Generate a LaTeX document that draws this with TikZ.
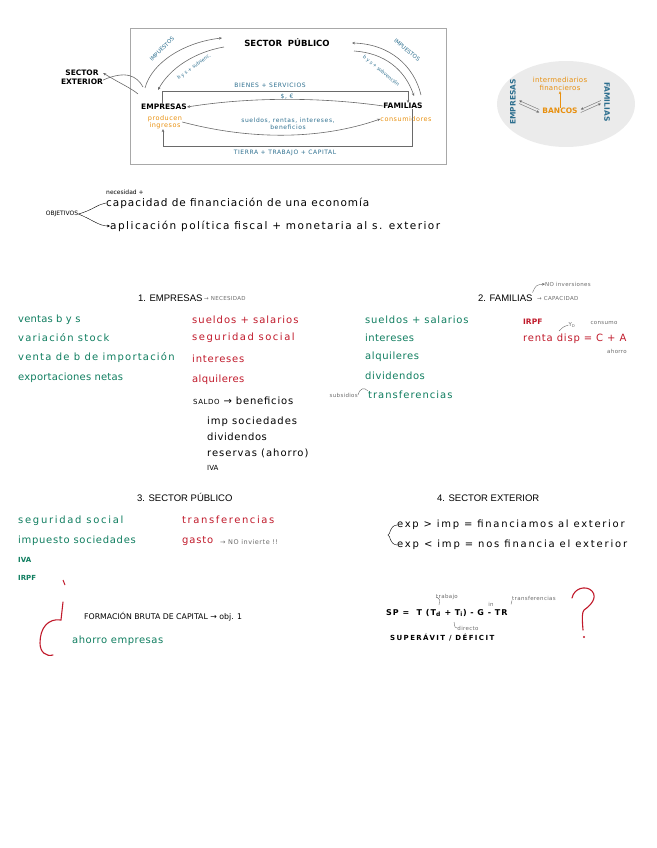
\documentclass[tikz,border=0pt]{standalone}
\usepackage{fontspec}
\setmainfont{DejaVu Sans}
\newfontfamily\titfont{Liberation Sans}
\usetikzlibrary{arrows.meta,calc}
\definecolor{verde}{HTML}{0F7D5F}
\definecolor{rojo}{HTML}{C0192A}
\definecolor{azul}{HTML}{2C6E8E}
\definecolor{naranja}{HTML}{E8900F}
\definecolor{gris}{HTML}{6A6A6A}
\definecolor{marco}{HTML}{A8A8A8}
\definecolor{fondo}{HTML}{EBEBEB}
\tikzset{
  lista/.style={anchor=west,inner sep=0pt,font=\fontsize{10}{12}\selectfont\addfontfeature{LetterSpace=#1}},
  lista/.default=6,
  verdes/.style={lista=#1,text=verde},
  verdes/.default=6,
  rojos/.style={lista=#1,text=rojo},
  rojos/.default=6,
  nota/.style={inner sep=0pt,text=gris,font=\fontsize{5.5}{6}\selectfont\addfontfeature{LetterSpace=6}},
  azules/.style={inner sep=0pt,text=azul,font=\fontsize{6}{7}\selectfont\addfontfeature{LetterSpace=10}},
  naranjas/.style={inner sep=0pt,text=naranja,font=\fontsize{6.5}{7.5}\selectfont\addfontfeature{LetterSpace=8}},
  caja/.style={inner sep=0pt,font=\bfseries\fontsize{7.5}{9}\selectfont},
  titulo/.style={anchor=west,inner sep=0pt,font=\titfont\fontsize{9.5}{11}\selectfont},
  flujo/.style={draw=gris,line width=0.6pt},
}
\begin{document}
\begin{tikzpicture}[x=1pt,y=-1pt,>={Stealth[length=3pt,width=2.6pt]}]
  \useasboundingbox (0,0) rectangle (656,848);
  % esquema del flujo circular
  \draw[marco,line width=1pt] (130,29) rectangle (446,164);
  \node[caja,font=\bfseries\fontsize{8.5}{10}\selectfont] (sp) at (287,43) {SECTOR\ \ PÚBLICO};
  \node[caja,align=center] (sext) at (82,77) {SECTOR\\EXTERIOR};
  \node[caja] (emp) at (164,107) {EMPRESAS};
  \node[caja] (fam) at (403,106) {FAMILIAS};
  \node[naranjas,align=center] (prod) at (165,122) {producen\\ingresos};
  \node[naranjas] (cons) at (406,119) {consumidores};
  \node[azules] (bys) at (270,85) {BIENES + SERVICIOS};
  \node[azules] (din) at (287,97) {\$, €};
  \node[azules,align=center] (rent) at (288,124) {sueldos, rentas, intereses,\\beneficios};
  \node[azules] (ttc) at (285,153) {TIERRA + TRABAJO + CAPITAL};
  \coordinate (aI1) at (145,88);
  \coordinate (aI2) at (222,38);
  \coordinate (aI3) at (158,90);
  \coordinate (aI4) at (224,47);
  \coordinate (aD1) at (352,43);
  \coordinate (aD2) at (421,95);
  \coordinate (aD3) at (354,51);
  \coordinate (aD4) at (414,96);
  \coordinate (ex1) at (143,87);
  \coordinate (ex2) at (138,94);
  \node[azules,rotate=45,font=\fontsize{5.5}{6}\selectfont] (impI) at (162,49) {IMPUESTOS};
  \node[azules,rotate=36,font=\fontsize{4.8}{5}\selectfont] (subI) at (194,67) {b y s + subvenc.};
  \node[azules,rotate=-40,font=\fontsize{5.5}{6}\selectfont] (impD) at (407,50) {IMPUESTOS};
  \node[azules,rotate=-40,font=\fontsize{4.8}{5}\selectfont] (subD) at (381,71) {b y s + subvención};
  \coordinate (bsI) at (162,91);
  \coordinate (bsD) at (408,91);
  \coordinate (tcI) at (163,146);
  \coordinate (tcD) at (412,146);
  \draw[flujo,->] (emp.north -| bsI) -- (bsI) -- (bsD) -- (fam.north -| bsD);
  \draw[flujo,->] (fam.south -| tcD) -- (tcD) -- (tcI) -- (prod.south -| tcI);
  \draw[flujo,->] (fam.west) .. controls (320,97) and (250,97) .. (emp.east);
  \draw[flujo,->] (prod.east) .. controls (250,140) and (320,140) .. (cons.west);
  \draw[flujo,->] (aI1) .. controls (152,62) and (185,42) .. (aI2);
  \draw[flujo,<-] (aI3) .. controls (170,68) and (195,52) .. (aI4);
  \draw[flujo,<-] (aD1) .. controls (390,44) and (414,66) .. (aD2);
  \draw[flujo,->] (aD3) .. controls (385,53) and (405,70) .. (aD4);
  \draw[flujo] ([yshift=-3pt]sext.east) .. controls (126,70) and (137,76) .. (ex1);
  \draw[flujo,<-] ([yshift=4pt]sext.east) .. controls (121,84) and (131,88) .. (ex2);
  % bancos
  \fill[fondo] (566,104) ellipse [x radius=69pt,y radius=43pt];
  \node[caja,text=azul,rotate=90] (bemp) at (513,102) {EMPRESAS};
  \node[caja,text=azul,rotate=-90] (bfam) at (607,102) {FAMILIAS};
  \node[naranjas,align=center,font=\fontsize{7}{8.5}\selectfont\addfontfeature{LetterSpace=4}] (fin) at (560,84) {intermediarios\\financieros};
  \node[naranjas,font=\bfseries\fontsize{7.5}{8}\selectfont] (banc) at (560,111) {BANCOS};
  \draw[naranja,->] (banc.north) -- (fin.south);
  \draw[gris,->] ($(banc.west)+(-3,-1.5)$) -- ($(bemp.south)+(3,-1.5)$);
  \draw[gris,<-] ($(banc.west)+(-3,1.5)$) -- ($(bemp.south)+(3,1.5)$);
  \draw[gris,<-] ($(banc.east)+(3,-1.5)$) -- ($(bfam.south)+(-3,-1.5)$);
  \draw[gris,->] ($(banc.east)+(3,1.5)$) -- ($(bfam.south)+(-3,1.5)$);
  % objetivos
  \node[inner sep=0pt,font=\fontsize{6}{7}\selectfont] (obj) at (62,214) {OBJETIVOS};
  \node[lista=0,font=\fontsize{6}{7}\selectfont] (nec) at (106,192) {necesidad +};
  \node[lista,font=\fontsize{10.5}{12}\selectfont\addfontfeature{LetterSpace=9}] (capf) at (106,203) {capacidad de financiación de una economía};
  \node[lista,font=\fontsize{10.5}{12}\selectfont\addfontfeature{LetterSpace=14}] (apl) at (110,226) {aplicación política fiscal + monetaria al s. exterior};
  \draw[thin] (capf.west) .. controls (98,204) and (93,210) .. (obj.east);
  \draw[thin,->] (obj.east) .. controls (93,220) and (99,226) .. (apl.west);
  % 1. empresas
  \node[titulo] (t1) at (138,298) {1. EMPRESAS};
  \node[nota,anchor=west] (t1n) at (204,298) {→ NECESIDAD};
  \node[verdes=2] (v1) at (18,320) {ventas b y s};
  \node[verdes=12] (v2) at (18,338) {variación stock};
  \node[verdes=12] (v3) at (18,358) {venta de b de importación};
  \node[verdes=2] (v4) at (18,378) {exportaciones netas};
  \node[rojos=10] (r1) at (192,320) {sueldos + salarios};
  \node[rojos=15] (r2) at (192,338) {seguridad social};
  \node[rojos=8] (r3) at (192,359) {intereses};
  \node[rojos=4] (r4) at (192,380) {alquileres};
  \node[lista=8] (saldo) at (193,401) {{\fontsize{7}{8}\selectfont SALDO} → beneficios};
  \node[lista=10] (s1) at (207,422) {imp sociedades};
  \node[lista=6] (s2) at (207,437) {dividendos};
  \node[lista=10] (s3) at (207,453) {reservas (ahorro)};
  \node[lista=0,font=\fontsize{7}{8}\selectfont] (s4) at (207,468) {IVA};
  % ingresos familias
  \node[verdes=8] (f1) at (365,320) {sueldos + salarios};
  \node[verdes=4] (f2) at (365,338) {intereses};
  \node[verdes=6] (f3) at (365,357) {alquileres};
  \node[verdes=6] (f4) at (365,376) {dividendos};
  \node[verdes=10] (f5) at (368,395) {transferencias};
  \node[nota,anchor=east] (subs) at (358,395) {subsidios};
  \draw[gris,thin] (subs.east) .. controls (360,388) and (364,387) .. (f5.north west);
  % 2. familias
  \node[titulo] (t2) at (478,298) {2. FAMILIAS};
  \node[nota,anchor=west] (t2n) at (537,298) {→ CAPACIDAD};
  \node[nota,anchor=west] (t2i) at (545,284) {NO inversiones};
  \draw[gris,thin,->] ([yshift=2pt]t2.north east) .. controls (536,285) .. (t2i.west);
  \node[rojos=0,font=\bfseries\fontsize{7.5}{9}\selectfont] (irpf) at (523,322) {IRPF};
  \node[rojos=8] (rdisp) at (523,339) {renta disp = C + A};
  \node[nota,font=\fontsize{5.5}{6}\selectfont] (yd) at (572,325) {Y\textsubscript{D}};
  \node[nota] (cons2) at (604,323) {consumo};
  \node[nota] (aho2) at (617,351) {ahorro};
  \draw[gris,thin] (yd.west) .. controls (563,327) .. (559,331);
  % 3. sector publico
  \node[titulo] (t3) at (137,497) {3. SECTOR PÚBLICO};
  \node[verdes=17] (p1) at (18,521) {seguridad social};
  \node[verdes=7] (p2) at (18,541) {impuesto sociedades};
  \node[verdes=0,font=\bfseries\fontsize{7}{8}\selectfont] (p3) at (18,560) {IVA};
  \node[verdes=0,font=\bfseries\fontsize{7}{8}\selectfont] (p4) at (18,578) {IRPF};
  \draw[rojo,line width=1pt] (63,580) -- (65,585);
  \node[rojos=16] (g1) at (182,520) {transferencias};
  \node[rojos=8] (g2) at (182,541) {gasto};
  \node[nota,anchor=west,font=\fontsize{6.5}{7}\selectfont\addfontfeature{LetterSpace=8}] (g2n) at (220,542) {→ NO invierte !!};
  % formacion bruta de capital
  \node[lista=0,font=\fontsize{7.8}{9}\selectfont] (fbc) at (84,617) {FORMACIÓN BRUTA DE CAPITAL → obj. 1};
  \node[verdes=5] (ahe) at (72,641) {ahorro empresas};
  \draw[rojo,line width=1.1pt,line cap=round] (63,602) -- (61,620) .. controls (48,618) and (40,628) .. (40,643) .. controls (40,652) and (46,657) .. (53,655);
  % 4. sector exterior
  \node[titulo] (t4) at (437,498) {4. SECTOR EXTERIOR};
  \node[lista=17] (e1) at (397,525) {exp > imp = financiamos al exterior};
  \node[lista=18] (e2) at (397,545) {exp < imp = nos financia el exterior};
  \draw[thin] (e1.west) .. controls (389,526) and (391,534) .. (388,535) .. controls (391,536) and (389,544) .. (e2.west);
  % saldo publico
  \node[lista,font=\bfseries\fontsize{8}{9}\selectfont\addfontfeature{LetterSpace=12}] (spf) at (386,613) {SP =\ \ T (T\textsubscript{d} + T\textsubscript{i}) - G - TR};
  \node[nota] (trab) at (447,597) {trabajo};
  \node[nota] (dir) at (468,628) {directo};
  \node[nota] (ind) at (491,604) {in};
  \node[nota] (tran) at (534,598) {transferencias};
  \draw[gris,thin] (trab.west) .. controls (440,599) .. (439,605);
  \draw[gris,thin] (dir.west) .. controls (455,628) .. (454,622);
  \draw[gris,thin] (tran.south west) -- ++(-1,4);
  \node[lista,font=\bfseries\fontsize{7}{8}\selectfont\addfontfeature{LetterSpace=20}] (supd) at (390,638) {SUPERÁVIT / DÉFICIT};
  \draw[rojo,line width=1.1pt,line cap=round] (572,598) .. controls (574,588) and (586,585) .. (592,591) .. controls (598,598) and (590,606) .. (584,610) .. controls (582,612) and (582,618) .. (583,630);
  \fill[rojo] (584,637) circle (1.1pt);
\end{tikzpicture}
\end{document}
